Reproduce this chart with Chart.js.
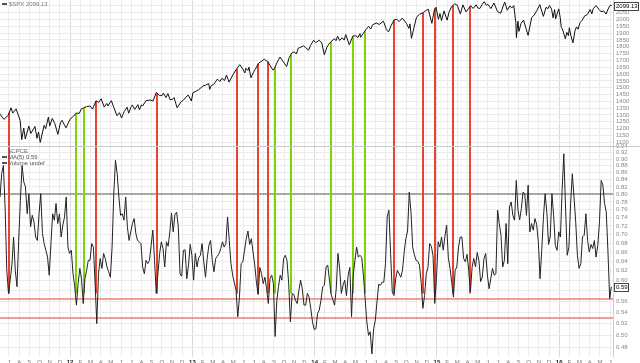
<!DOCTYPE html>
<html>
<head>
<meta charset="utf-8">
<script src="https://cdn.jsdelivr.net/npm/chart.js@4.4.0/dist/chart.umd.min.js"></script>
<style>
  html, body { margin: 0; padding: 0; background: #fff; }
  #wrap { position: relative; width: 640px; height: 363px; overflow: hidden; }
  #spxCanvas { position: absolute; left: 0; top: 0; }
  #cpceCanvas { position: absolute; left: 0; top: 138px; }
</style>
</head>
<body>
<div id="wrap">
  <canvas id="spxCanvas" width="640" height="146"></canvas>
  <canvas id="cpceCanvas" width="640" height="225"></canvas>
</div>
<script>
// x unit: months since Jan 2011 (12 = Jan 2012)
const X_MIN = 5.12;
const X_MAX = 65.28;

const monthLetters = ['J', 'F', 'M', 'A', 'M', 'J', 'J', 'A', 'S', 'O', 'N', 'D'];
const yearLabels   = { 12: '12', 24: '13', 36: '14', 48: '15', 60: '16' };

// $SPX, turning points
const spxMonths = [
  5.05, 5.5, 5.95, 6.2, 6.37, 6.7, 6.95, 7.1, 7.25, 7.45, 7.6, 7.95, 8.15, 8.55, 8.75, 8.9, 9.07, 9.45, 9.6, 9.87,
  10.0, 10.25, 10.5, 10.8, 11.05, 11.2, 11.6, 11.95,
  12.1, 12.35, 12.6, 12.9, 13.1, 13.3, 13.6, 13.95, 14.2, 14.55, 14.8, 15.05, 15.35, 15.6, 15.7, 16.05, 16.3, 16.6,
  16.85, 17.05, 17.3, 17.6, 17.75, 18.0, 18.1, 18.35, 18.65, 18.8, 19.0, 19.1, 19.45, 19.85, 20.15, 20.45, 20.8,
  21.05, 21.15, 21.4, 21.6, 21.8, 22.05, 22.2, 22.5, 22.9, 23.1, 23.35, 23.6, 23.9,
  24.05, 24.6, 24.85, 25.05, 25.3, 25.6, 25.7, 25.85, 26.1, 26.45, 26.7, 26.9, 27.15, 27.35, 27.6, 28.0, 28.3, 28.65,
  29.0, 29.15, 29.25, 29.45, 29.55, 29.75, 30.0, 30.15, 30.5, 30.75, 31.05, 31.4, 31.9, 32.0, 32.3, 32.6, 33.0,
  33.25, 33.5, 33.75, 34.0, 34.2, 34.4, 34.6, 34.9, 35.1, 35.4, 35.6, 35.9,
  36.1, 36.45, 36.7, 36.95, 37.2, 37.4, 37.6, 37.95, 38.1, 38.25, 38.45, 38.7, 38.9, 39.05, 39.4, 39.75, 40.05,
  40.25, 40.45, 40.5, 40.8, 41.0, 41.3, 41.5, 41.7, 42.05, 42.35, 42.75, 43.05, 43.25, 43.5, 43.8, 44.05, 44.3,
  44.6, 45.0, 45.25, 45.35, 45.5, 45.75, 46.0, 46.3, 46.6, 46.95, 47.15, 47.5, 47.75, 47.9,
  48.15, 48.3, 48.45, 48.7, 49.0, 49.2, 49.45, 49.75, 50.0, 50.3, 50.55, 50.85, 51.1, 51.3, 51.55, 51.85, 52.0,
  52.2, 52.45, 52.65, 52.85, 53.0, 53.3, 53.6, 53.95, 54.25, 54.65, 54.9, 55.15, 55.35, 55.55, 55.75, 55.8, 55.95,
  56.05, 56.25, 56.5, 56.75, 56.95, 57.3, 57.55, 57.8, 58.1, 58.45, 58.7, 58.9, 59.05, 59.25, 59.4, 59.55, 59.65, 59.95,
  60.1, 60.2, 60.35, 60.6, 60.75, 60.9, 61.0, 61.15, 61.35, 61.55, 61.7, 61.85, 62.05, 62.25, 62.5, 62.75, 63.05,
  63.2, 63.35, 63.6, 63.9, 64.0, 64.2, 64.35, 64.6, 64.8, 64.95, 65.05, 65.07
];
const spxValues = [
  1313, 1268, 1300, 1353, 1314, 1345, 1292, 1260, 1119, 1204, 1124, 1219, 1165, 1216, 1129, 1175, 1099, 1224, 1200, 1285,
  1219, 1275, 1237, 1158, 1244, 1261, 1206, 1263,
  1277, 1292, 1314, 1312, 1345, 1351, 1361, 1366, 1343, 1404, 1392, 1419, 1358, 1385, 1366, 1405, 1354, 1295,
  1317, 1278, 1325, 1357, 1313, 1362, 1374, 1341, 1376, 1338, 1375, 1365, 1405, 1410, 1403, 1465, 1441,
  1445, 1461, 1428, 1457, 1413, 1414, 1428, 1353, 1398, 1407, 1430, 1446, 1402,
  1462, 1485, 1500, 1513, 1519, 1530, 1488, 1515, 1525, 1563, 1545, 1569, 1553, 1593, 1541, 1597, 1633, 1669,
  1631, 1608, 1643, 1626, 1651, 1573, 1614, 1632, 1680, 1692, 1709, 1691, 1630, 1633, 1683, 1725, 1682,
  1656, 1721, 1754, 1763, 1747, 1791, 1795, 1807, 1795, 1775, 1810, 1848,
  1831, 1848, 1828, 1741, 1797, 1820, 1838, 1859, 1845, 1878, 1846, 1866, 1849, 1890, 1815, 1879, 1881,
  1868, 1897, 1870, 1900, 1924, 1950, 1930, 1962, 1974, 1964, 1988, 1925, 1909, 1955, 1997, 2002, 1985,
  2011, 1972, 1935, 1968, 1862, 1941, 2018, 2039, 2048, 2067, 2075, 1972, 2070, 2090,
  2002, 2044, 1992, 2063, 1995, 2055, 2096, 2115, 2105, 2040, 2108, 2056, 2080, 2102, 2081, 2108, 2086,
  2080, 2112, 2131, 2104, 2112, 2080, 2121, 2058, 2046, 2128, 2068, 2100, 2084, 2102, 1971, 1867, 1988,
  1913, 1970, 1996, 1932, 1884, 2014, 2033, 2065, 2109, 2023, 2089, 2080, 2103, 2077, 2012, 2073, 2005, 2078,
  2016, 1943, 1923, 1859, 1906, 1882, 1940, 1880, 1829, 1918, 1946, 1929, 1978, 1994, 2027, 2036, 2073,
  2041, 2080, 2102, 2075, 2065, 2057, 2064, 2040, 2076, 2099, 2105, 2099.13
];

// $CPCE, one reading every 1/6 month starting at CPCE_START
const CPCE_START = 5.12;
const CPCE_STEP = 1 / 6;
const cpceValues = [
  0.793, 0.857, 0.881, 0.767, 0.621, 0.575, 0.601, 0.632, 0.694, 0.621, 0.588, 0.686,
  0.784, 0.881, 0.834, 0.820, 0.750, 0.802, 0.718, 0.746, 0.730, 0.694, 0.686, 0.750,
  0.802, 0.702, 0.679, 0.664, 0.649, 0.611, 0.679, 0.750, 0.734, 0.776, 0.726, 0.750,
  0.694, 0.722, 0.742, 0.793, 0.671, 0.657, 0.664, 0.614, 0.588, 0.553, 0.594, 0.625,
  0.604, 0.556, 0.604, 0.621, 0.642, 0.642, 0.679, 0.671, 0.594, 0.520, 0.614, 0.646,
  0.625, 0.657, 0.646, 0.628, 0.618, 0.607, 0.671, 0.802, 0.896, 0.857, 0.793, 0.746,
  0.750, 0.734, 0.793, 0.718, 0.686, 0.706, 0.726, 0.738, 0.702, 0.686, 0.683, 0.679,
  0.628, 0.614, 0.642, 0.635, 0.642, 0.675, 0.710, 0.642, 0.575, 0.614, 0.657, 0.683,
  0.668, 0.628, 0.683, 0.673, 0.706, 0.752, 0.706, 0.749, 0.754, 0.718, 0.614, 0.609,
  0.664, 0.665, 0.604, 0.632, 0.677, 0.653, 0.601, 0.657, 0.628, 0.648, 0.653, 0.679,
  0.639, 0.607, 0.646, 0.675, 0.686, 0.642, 0.618, 0.646, 0.651, 0.657, 0.668, 0.683,
  0.671, 0.679, 0.742, 0.686, 0.635, 0.611, 0.596, 0.581, 0.532, 0.568, 0.635, 0.639,
  0.664, 0.690, 0.708, 0.677, 0.690, 0.660, 0.632, 0.597, 0.573, 0.627, 0.614, 0.594,
  0.607, 0.584, 0.556, 0.604, 0.611, 0.594, 0.498, 0.562, 0.588, 0.611, 0.601, 0.646,
  0.653, 0.642, 0.594, 0.523, 0.575, 0.573, 0.562, 0.556, 0.581, 0.601, 0.584, 0.553,
  0.553, 0.575, 0.568, 0.547, 0.523, 0.510, 0.511, 0.538, 0.544, 0.562, 0.588, 0.591,
  0.628, 0.632, 0.601, 0.573, 0.563, 0.553, 0.584, 0.657, 0.625, 0.575, 0.591, 0.601,
  0.571, 0.611, 0.627, 0.532, 0.611, 0.642, 0.671, 0.649, 0.653, 0.648, 0.611, 0.565,
  0.523, 0.500, 0.506, 0.470, 0.511, 0.526, 0.559, 0.593, 0.591, 0.597, 0.597, 0.635,
  0.742, 0.759, 0.657, 0.578, 0.571, 0.604, 0.621, 0.614, 0.607, 0.621, 0.660, 0.690,
  0.708, 0.806, 0.754, 0.671, 0.654, 0.642, 0.640, 0.632, 0.597, 0.547, 0.571, 0.614,
  0.627, 0.679, 0.673, 0.652, 0.556, 0.604, 0.683, 0.671, 0.694, 0.664, 0.696, 0.722,
  0.648, 0.625, 0.597, 0.568, 0.621, 0.628, 0.671, 0.694, 0.694, 0.646, 0.639, 0.655,
  0.621, 0.578, 0.628, 0.646, 0.628, 0.659, 0.642, 0.598, 0.607, 0.646, 0.657, 0.611,
  0.584, 0.604, 0.625, 0.611, 0.614, 0.759, 0.726, 0.698, 0.628, 0.642, 0.726, 0.635,
  0.767, 0.780, 0.746, 0.734, 0.838, 0.759, 0.735, 0.763, 0.806, 0.802, 0.746, 0.825,
  0.706, 0.726, 0.710, 0.738, 0.724, 0.683, 0.604, 0.664, 0.742, 0.802, 0.754, 0.677,
  0.694, 0.802, 0.746, 0.675, 0.664, 0.706, 0.694, 0.811, 0.916, 0.767, 0.653, 0.671,
  0.776, 0.857, 0.793, 0.730, 0.653, 0.625, 0.635, 0.694, 0.698, 0.750, 0.686, 0.660,
  0.677, 0.668, 0.686, 0.649, 0.675, 0.730, 0.838, 0.825, 0.776, 0.754, 0.660, 0.565,
  0.588
];

// signal dates (months)
const sellSignals = [6.03, 14.54, 20.56, 28.35, 30.47, 31.39, 43.79, 46.66, 47.84, 49.6, 51.24];
const buySignals  = [12.61, 13.33, 32.11, 33.65, 37.57, 39.73, 40.91];
const SIGNAL_FLOOR = 0.575;

const cpceLevels = [0.80, 0.565, 0.53];
const cpceLevelColors = ['#a2ab9c', '#f07f72', '#f07f72'];

const spxTicks = [1100, 1150, 1200, 1250, 1300, 1350, 1400, 1450, 1500, 1550, 1600, 1650, 1700, 1750, 1800, 1850, 1900, 1950, 2000, 2050, 2100];
const cpceTicks = [0.48, 0.50, 0.52, 0.54, 0.56, 0.58, 0.60, 0.62, 0.64, 0.66, 0.68, 0.70, 0.72, 0.74, 0.76, 0.78, 0.80, 0.82, 0.84, 0.86, 0.88, 0.90, 0.92, 0.94];

const RED = '#e9452e';
const GREEN = '#7ed600';
const GRID = '#ececec';
const FONT = 'Liberation Sans';

const monthTicks = [];
for (let m = Math.ceil(X_MIN); m <= X_MAX; m++) monthTicks.push(m);

function spxAt(m) {
  for (let i = 1; i < spxMonths.length; i++) {
    if (spxMonths[i] >= m) {
      const t = (m - spxMonths[i - 1]) / (spxMonths[i] - spxMonths[i - 1]);
      return spxValues[i - 1] + t * (spxValues[i] - spxValues[i - 1]);
    }
  }
  return spxValues[spxValues.length - 1];
}

function xAxis(showLabels) {
  return {
    type: 'linear', min: X_MIN, max: X_MAX,
    afterBuildTicks: s => { s.ticks = monthTicks.map(v => ({ value: v })); },
    grid: { color: c => (c.tick && c.tick.value % 12 === 0) ? '#dadada' : GRID, drawTicks: false },
    border: { display: false },
    ticks: {
      display: showLabels, autoSkip: false, maxRotation: 0, padding: 2,
      color: c => (c.tick && c.tick.value % 12 === 0) ? '#222' : '#777',
      font: c => ({ family: FONT, size: 6, weight: (c.tick && c.tick.value % 12 === 0) ? 'bold' : 'normal' }),
      callback: v => yearLabels[v] || monthLetters[v % 12],
    },
    afterFit: s => { s.height = showLabels ? 6 : 0; s.paddingLeft = 0; s.paddingRight = 0; },
  };
}

function yAxis(extra) {
  return Object.assign({
    position: 'right',
    grid: { color: GRID, drawTicks: false },
    border: { display: true, color: '#cfcfcf' },
    afterFit: s => { s.width = 27; s.paddingTop = 0; s.paddingBottom = 0; },
  }, extra);
}

function valueBox(ctx, text, x, y) {
  ctx.font = `6px "${FONT}"`;
  const w = Math.ceil(ctx.measureText(text).width) + 3;
  ctx.fillStyle = '#fff';
  ctx.fillRect(x, Math.round(y) - 4, w, 9);
  ctx.strokeStyle = '#444';
  ctx.lineWidth = 1;
  ctx.strokeRect(x + 0.5, Math.round(y) - 3.5, w - 1, 8);
  ctx.fillStyle = '#000';
  ctx.textBaseline = 'middle';
  ctx.textAlign = 'left';
  ctx.fillText(text, x + 2, Math.round(y) + 0.5);
}

function drawSignals(chart, topFn, bottomFn) {
  const { ctx, scales: { x } } = chart;
  ctx.save();
  ctx.lineWidth = 2;
  [[sellSignals, RED], [buySignals, GREEN]].forEach(([list, color]) => {
    ctx.strokeStyle = color;
    list.forEach(m => {
      const px = Math.round(x.getPixelForValue(m));
      ctx.beginPath();
      ctx.moveTo(px, topFn(m));
      ctx.lineTo(px, bottomFn(m));
      ctx.stroke();
    });
  });
  ctx.restore();
}

const spxPlugin = {
  id: 'spxExtras',
  beforeDatasetsDraw(chart) {
    const y = chart.scales.y;
    drawSignals(chart, m => y.getPixelForValue(spxAt(m)), () => chart.chartArea.bottom);
  },
  afterDraw(chart) {
    const { ctx, chartArea, scales: { y } } = chart;
    const last = spxValues[spxValues.length - 1];
    ctx.save();
    ctx.fillStyle = '#555';
    ctx.fillRect(2, 3, 5, 2);
    ctx.font = `6px "${FONT}"`;
    ctx.fillStyle = '#777';
    ctx.textBaseline = 'middle';
    ctx.fillText('$SPX ' + last.toFixed(2), 9, 4.5);
    valueBox(ctx, last.toFixed(2), chartArea.right + 1, y.getPixelForValue(last));
    ctx.restore();
  },
};

const cpcePlugin = {
  id: 'cpceExtras',
  beforeDatasetsDraw(chart) {
    const { ctx, chartArea, scales: { y } } = chart;
    ctx.save();
    cpceLevels.forEach((lvl, i) => {
      const py = Math.round(y.getPixelForValue(lvl));
      ctx.strokeStyle = cpceLevelColors[i];
      ctx.lineWidth = i === 0 ? 2 : 1.5;
      ctx.beginPath();
      ctx.moveTo(chartArea.left, py);
      ctx.lineTo(chartArea.right, py);
      ctx.stroke();
    });
    ctx.restore();
    drawSignals(chart, () => chartArea.top, () => y.getPixelForValue(SIGNAL_FLOOR));
  },
  afterDraw(chart) {
    const { ctx, chartArea, scales: { y } } = chart;
    const last = cpceValues[cpceValues.length - 1];
    const t = chartArea.top;
    ctx.save();
    ctx.strokeStyle = '#c8c8c8';
    ctx.lineWidth = 1;
    ctx.beginPath();
    ctx.moveTo(0, t + 0.5);
    ctx.lineTo(640, t + 0.5);
    ctx.stroke();
    ctx.font = `6px "${FONT}"`;
    ctx.fillStyle = '#666';
    ctx.textBaseline = 'middle';
    ctx.fillText('$CPCE', 8, t + 5);
    ctx.fillStyle = '#555';
    ctx.fillRect(2, t + 10, 5, 2);
    ctx.fillText('MA(5) ' + last.toFixed(2), 8, t + 11);
    ctx.fillRect(2, t + 16, 5, 2);
    ctx.fillText('Volume undef', 8, t + 17);
    valueBox(ctx, last.toFixed(2), chartArea.right + 1, y.getPixelForValue(last));
    ctx.restore();
  },
};

const common = {
  responsive: false,
  animation: false,
  events: [],
  plugins: { legend: { display: false }, tooltip: { enabled: false } },
  elements: { point: { radius: 0 }, line: { tension: 0 } },
};

new Chart(document.getElementById('spxCanvas'), {
  type: 'line',
  data: {
    datasets: [{
      data: spxMonths.map((m, i) => ({ x: m, y: spxValues[i] })),
      borderColor: '#111', borderWidth: 1,
    }],
  },
  options: Object.assign({}, common, {
    layout: { padding: 0 },
    scales: {
      x: xAxis(false),
      y: yAxis({
        type: 'linear', min: 1072.7, max: 2143.1,
        afterBuildTicks: s => { s.ticks = spxTicks.map(v => ({ value: v })); },
        ticks: { autoSkip: false, color: '#888', padding: 3, font: { family: FONT, size: 6 }, callback: v => String(v) },
      }),
    },
  }),
  plugins: [spxPlugin],
});

new Chart(document.getElementById('cpceCanvas'), {
  type: 'line',
  data: {
    datasets: [{
      data: cpceValues.map((v, i) => ({ x: CPCE_START + i * CPCE_STEP, y: v })),
      borderColor: '#222', borderWidth: 1,
    }],
  },
  options: Object.assign({}, common, {
    layout: { padding: { top: 8, left: 0, right: 0, bottom: 0 } },
    scales: {
      x: xAxis(true),
      y: yAxis({
        type: 'logarithmic', min: 0.4652, max: 0.94,
        afterBuildTicks: s => { s.ticks = cpceTicks.map(v => ({ value: v })); },
        ticks: { autoSkip: false, color: '#888', padding: 3, font: { family: FONT, size: 6 }, callback: v => Number(v).toFixed(2) },
      }),
    },
  }),
  plugins: [cpcePlugin],
});
</script>
</body>
</html>
